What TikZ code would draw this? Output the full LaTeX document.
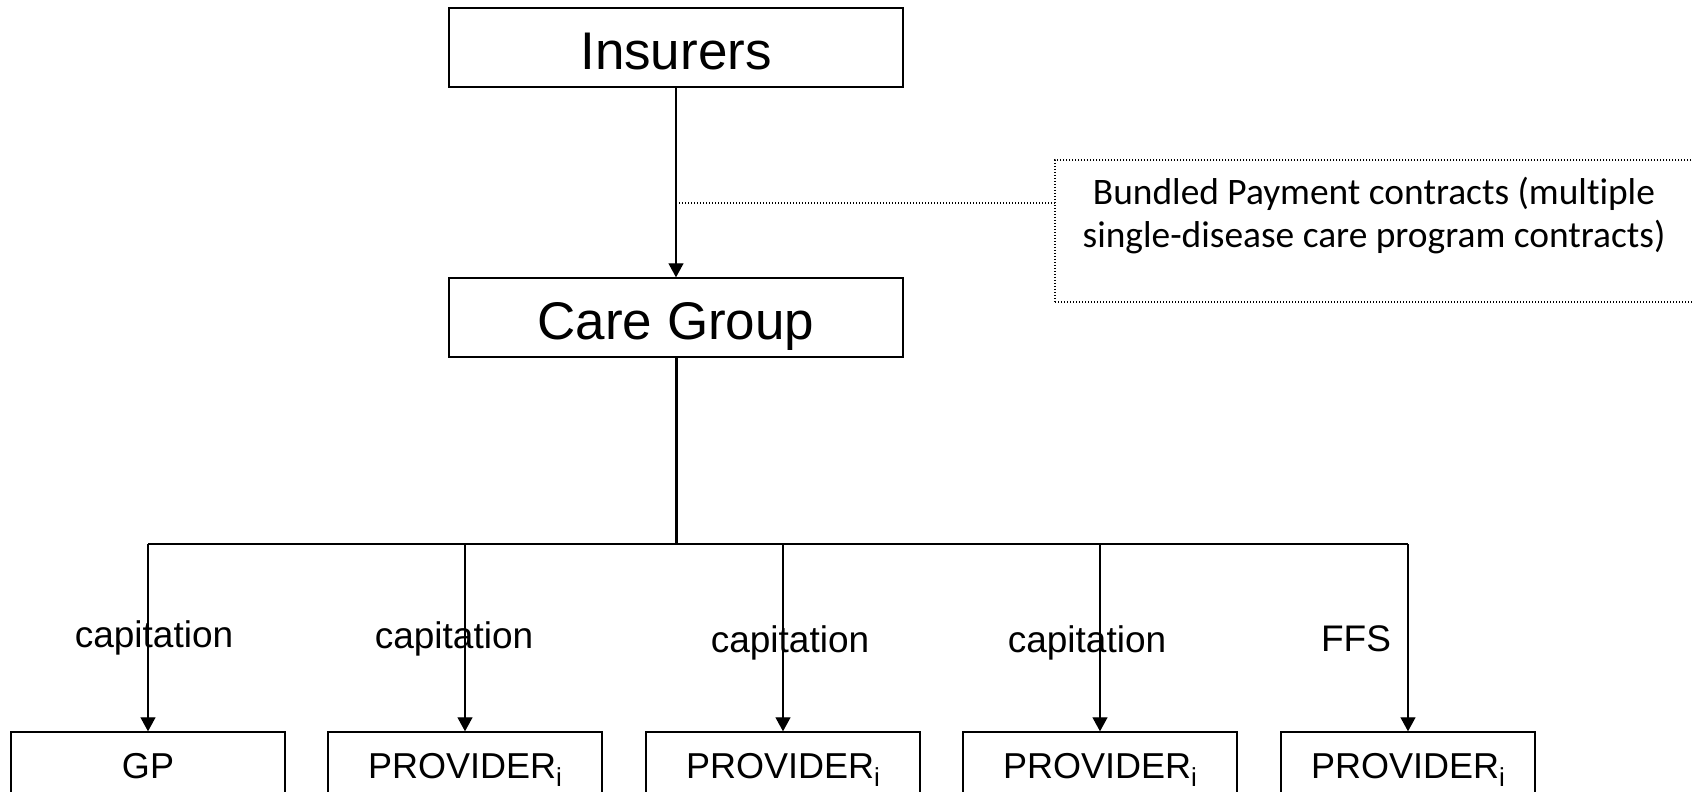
\documentclass[tikz,border=0pt]{standalone}
\usepackage{fontspec}
\setmainfont{Liberation Sans}
\newfontfamily\calib[Ligatures=NoCommon]{Carlito}
\usetikzlibrary{arrows.meta}
\newcommand{\subi}{\raisebox{-4pt}{\fontsize{13}{15}\selectfont i}}
\begin{document}
\begin{tikzpicture}[x=0.5pt,y=-0.5pt,
  box/.style={draw, line width=0.7pt, inner sep=0pt, text depth=0pt},
  big/.style={font=\fontsize{26.5}{30}\selectfont, text height=22.4pt, minimum width=227pt, minimum height=39.5pt},
  small/.style={font=\fontsize{18}{21}\selectfont, text height=15.2pt, minimum height=31pt},
  arr/.style={line width=0.6pt, -{Triangle[width=7.5pt,length=7pt]}},
  lab/.style={font=\fontsize{18.5}{21}\selectfont, anchor=base, inner sep=0pt},
  dots/.style={line width=0.6pt, dash pattern=on 0.6pt off 0.9pt}
]
\useasboundingbox (0,0) rectangle (1693,792);
\clip (0,0) rectangle (1693,792);
\fill[white] (0,0) rectangle (1693,792);

\node[box,big] (ins) at (676,47.5) {Insurers};
\node[box,big] (cg) at (676,317.5) {Care Group};

\node[box,small,minimum width=137pt] (gp) at (148,763) {GP};
\node[box,small,minimum width=137pt] (p1) at (465,763) {PROVIDER\subi};
\node[box,small,minimum width=137pt] (p2) at (783,763) {PROVIDER\subi};
\node[box,small,minimum width=137pt] (p3) at (1100,763) {PROVIDER\subi};
\node[box,small,minimum width=127pt] (p4) at (1408,763) {PROVIDER\subi};

\node[draw, dots, minimum width=320pt, minimum height=71pt, inner sep=0pt] (bp) at (1375,231) {};
\node[font=\calib\fontsize{18.7}{21.5}\selectfont, align=center, anchor=base, inner sep=0pt] (bpt) at (1374,248)
  {Bundled Payment contracts (multiple\\single-disease care program contracts)};

\draw[arr] (ins) -- (cg);
\draw[dots] (ins.south |- 0,203) -- (bp.west |- 0,203);

\coordinate (bus) at (0,544);
\draw[line width=1.5pt] (cg.south) -- (cg.south |- bus);
\draw[line width=1pt] (gp.north |- bus) -- (p4.north |- bus);
\foreach \n in {gp,p1,p2,p3,p4} \draw[arr] (\n.north |- bus) -- (\n.north);

\node[lab] (l1) at (154,647) {capitation};
\node[lab] (l2) at (454,648) {capitation};
\node[lab] (l3) at (790,652) {capitation};
\node[lab] (l4) at (1087,652) {capitation};
\node[lab] (l5) at (1356,651) {FFS};
\end{tikzpicture}
\end{document}
